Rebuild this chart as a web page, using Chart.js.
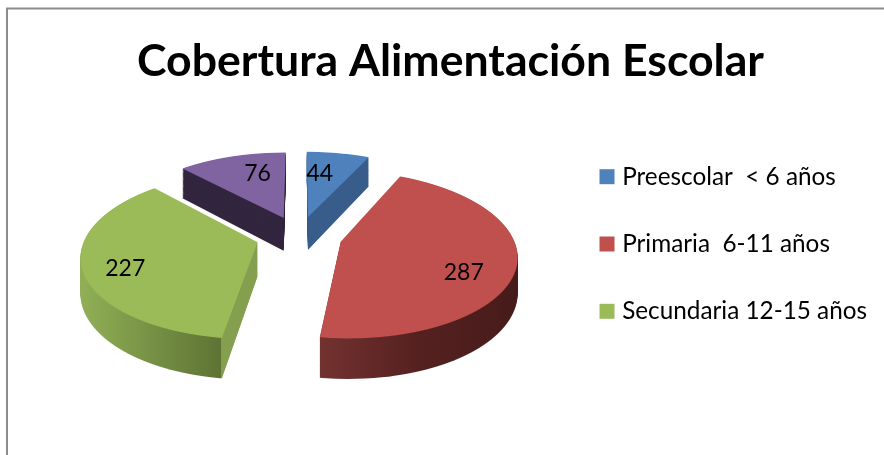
<!DOCTYPE html>
<html>
<head>
<meta charset="utf-8">
<style>
  html, body { margin: 0; padding: 0; background: #fff; overflow: hidden; }
  canvas { display: block; }
</style>
</head>
<body>
<canvas id="chart" width="884" height="455"></canvas>
<script src="https://cdn.jsdelivr.net/npm/chart.js@4/dist/chart.umd.min.js"></script>
<script>
  var TITLE = "Cobertura Alimentación Escolar";
  var categories = ["Preescolar  < 6 años", "Primaria  6-11 años", "Secundaria 12-15 años", ""];
  var values = [44, 287, 227, 76];
  var topColors = ["#4f81bd", "#c0504d", "#9bbb59", "#8064a2"];

  /* ── 3D look: perspective plane, wall colours, label anchors ── */

  var VIEW = { cx: 299, cy: 236, A: 172, B: 80.3, p: 0.15, depth: 34, explode: 0.25 };

  var WALLS = [
    "#385d8a",
    { x0: 319, x1: 515, stops: [[0, "#733230"], [0.5, "#552120"], [1, "#471b1b"]] },
    { x0: 84, x1: 258, stops: [[0, "#8fae55"], [0.79, "#5d7334"], [0.79, "#849f4e"], [1, "#849f4e"]] },
    "#33263f"
  ];

  // [fraction of the radius, fraction of the slice's sweep]
  var LABEL_ANCHORS = [[0.634, 0.3], [0.748, 0.575], [0.778, 0.454], [0.675, 0.64]];

  function wallFill(ctx, wall, a, e) {
    if (typeof wall === "string") return wall;
    var g = ctx.createLinearGradient((wall.x0 - e) / a, 0, (wall.x1 - e) / a, 0);
    wall.stops.forEach(function (s) { g.addColorStop(s[0], s[1]); });
    return g;
  }

  function drawSlice(ctx, arc, wall) {
    var mid = (arc.startAngle + arc.endAngle) / 2;
    var ex = Math.cos(mid) * VIEW.explode;
    var ey = Math.sin(mid) * VIEW.explode;
    var R = arc.outerRadius;
    var base = arc.options;

    // canvas has no perspective transform, so each screen row gets its own affine one
    for (var row = 140; row < 390; row++) {
      var ys = row + 0.5;
      var Y = ys - VIEW.cy;
      ctx.save();
      ctx.beginPath();
      ctx.rect(0, row, 884, 1);
      ctx.clip();
      for (var layer = VIEW.depth; layer >= 0; layer--) {
        var v0 = (Y - layer) / (VIEW.B + VIEW.p * Y);
        if (v0 < ey - 1.03 || v0 > ey + 1.03) continue;
        var w = 1 - VIEW.p * v0;
        var k = (VIEW.B + VIEW.p * layer) / (w * w);
        var a = VIEW.A / (w * R);
        var e = VIEW.cx + (VIEW.A / w) * ex - a * arc.x;
        var d = k / R;
        var f = ys + k * (ey - v0) - d * arc.y;
        ctx.setTransform(a, 0, 0, d, e, f);
        arc.options = layer === 0 ? base : Object.assign({}, base, { backgroundColor: wallFill(ctx, wall, a, e) });
        arc.draw(ctx);
      }
      ctx.restore();
    }
    arc.options = base;
  }

  function drawValue(ctx, arc, value, anchor) {
    var mid = (arc.startAngle + arc.endAngle) / 2;
    var ang = arc.startAngle + (arc.endAngle - arc.startAngle) * anchor[1];
    var u = Math.cos(mid) * VIEW.explode + Math.cos(ang) * anchor[0];
    var v = Math.sin(mid) * VIEW.explode + Math.sin(ang) * anchor[0];
    var w = 1 - VIEW.p * v;
    ctx.fillText(String(value), VIEW.cx + VIEW.A * u / w, VIEW.cy + VIEW.B * v / w);
  }

  var pie3d = {
    id: "pie3d",
    beforeDraw: function (chart) {
      var ctx = chart.ctx;
      ctx.save();
      ctx.fillStyle = "#fff";
      ctx.fillRect(0, 0, chart.width, chart.height);
      ctx.strokeStyle = "#8c8c8c";
      ctx.lineWidth = 2;
      ctx.beginPath();
      ctx.moveTo(7, 460);
      ctx.lineTo(7, 8.5);
      ctx.lineTo(890, 8.5);
      ctx.stroke();
      ctx.restore();
    },
    beforeDatasetsDraw: function (chart) {
      var ctx = chart.ctx;
      var arcs = chart.getDatasetMeta(0).data;
      arcs.forEach(function (arc, i) { drawSlice(ctx, arc, WALLS[i]); });
      ctx.save();
      ctx.fillStyle = "#000";
      ctx.font = "23px Lato";
      ctx.textAlign = "center";
      ctx.textBaseline = "middle";
      arcs.forEach(function (arc, i) { drawValue(ctx, arc, values[i], LABEL_ANCHORS[i]); });
      ctx.restore();
      return false;
    }
  };

  new Chart(document.getElementById("chart"), {
    type: "pie",
    data: {
      labels: categories,
      datasets: [{ data: values, backgroundColor: topColors, borderWidth: 0 }]
    },
    plugins: [pie3d],
    options: {
      responsive: false,
      animation: false,
      layout: { padding: { left: 24, right: 7, top: 35, bottom: 2 } },
      plugins: {
        tooltip: { enabled: false },
        title: {
          display: true,
          text: TITLE,
          color: "#000",
          font: { family: "Lato", size: 44.6, weight: "bold" },
          padding: { top: 0, bottom: 20 }
        },
        legend: {
          position: "right",
          labels: {
            color: "#000",
            font: { family: "Lato", size: 24.3 },
            usePointStyle: true,
            pointStyle: "rect",
            boxWidth: 6,
            boxHeight: 15,
            padding: 43,
            filter: function (item) { return item.text !== ""; }
          }
        }
      }
    }
  });
</script>
</body>
</html>
